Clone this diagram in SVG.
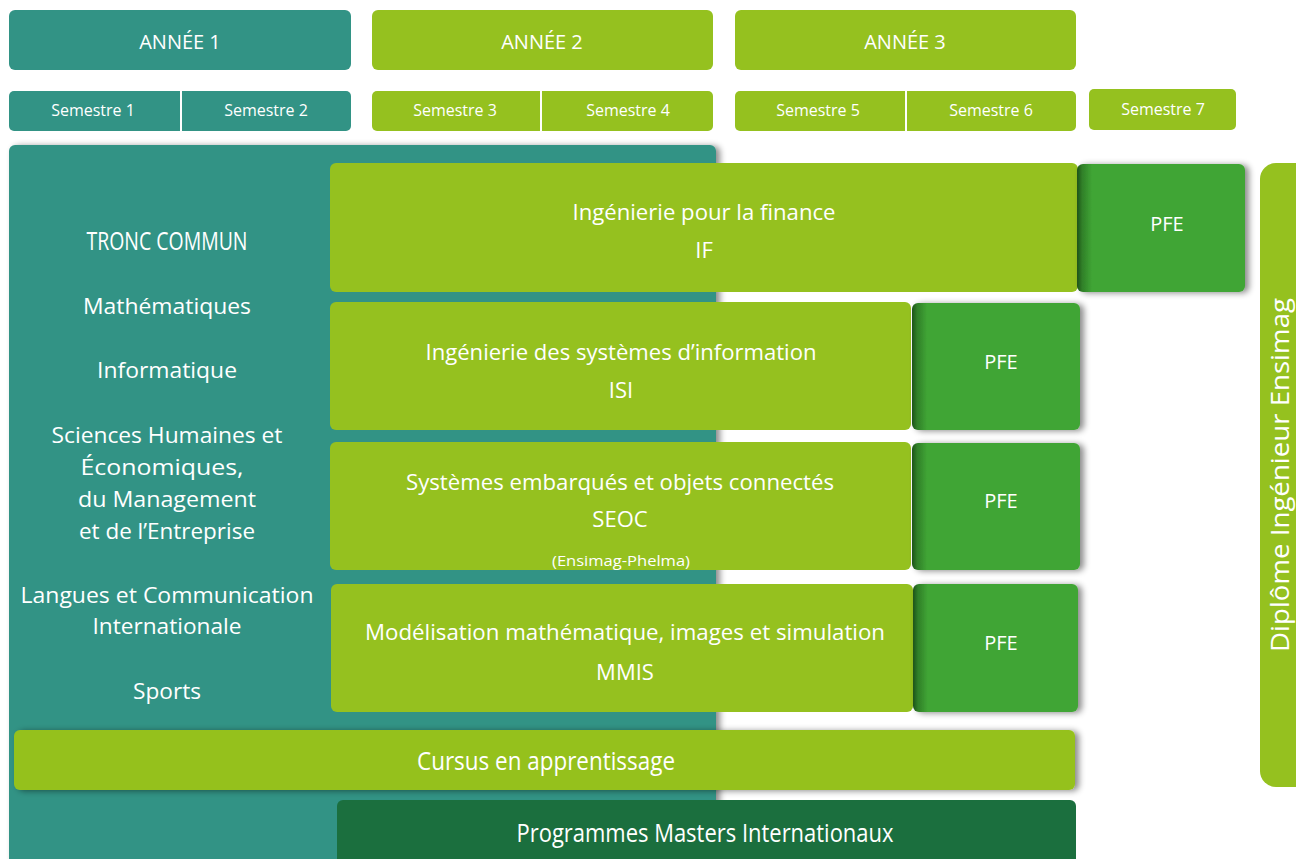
<svg xmlns="http://www.w3.org/2000/svg" width="1296" height="859" viewBox="0 0 1296 859">
<defs>
<style>
.teal{fill:#329385}
.lime{fill:#95C11F}
.pfe{fill:url(#pfeGrad)}
.dark{fill:#1B6F3E}
text{font-family:"Open Sans","Liberation Sans",sans-serif;fill:#ffffff;text-anchor:middle}
.h{font-size:20px}
.s{font-size:16px}
.m{font-size:22px}
.p{font-size:20px}
.sm{font-size:14px}
.c{font-size:25px}
</style>
<linearGradient id="pfeGrad" x1="0" y1="0" x2="1" y2="0">
<stop offset="0" stop-color="#1f531b"/>
<stop offset="0.03" stop-color="#2f7f28"/>
<stop offset="0.09" stop-color="#40A535"/>
<stop offset="1" stop-color="#40A535"/>
</linearGradient>
<filter id="sh" x="-10%" y="-10%" width="125%" height="125%">
<feDropShadow dx="4" dy="1" stdDeviation="3" flood-color="#000" flood-opacity="0.45"/>
</filter>
</defs>
<rect width="1296" height="859" fill="#ffffff"/>

<g id="annee1"><rect class="teal" x="9" y="10" width="342" height="60" rx="6"/><text class="h" x="180" y="49">ANNÉE 1</text></g>
<g id="annee2"><rect class="lime" x="372" y="10" width="341" height="60" rx="6"/><text class="h" x="542" y="49">ANNÉE 2</text></g>
<g id="annee3"><rect class="lime" x="735" y="10" width="341" height="60" rx="6"/><text class="h" x="905" y="49">ANNÉE 3</text></g>

<g id="sem12"><rect class="teal" x="9" y="91" width="342" height="40" rx="5"/><rect x="180" y="91" width="2" height="40" fill="#fff"/>
<text class="s" x="93" y="116">Semestre 1</text><text class="s" x="266" y="116">Semestre 2</text></g>
<g id="sem34"><rect class="lime" x="372" y="91" width="341" height="40" rx="5"/><rect x="540" y="91" width="2" height="40" fill="#fff"/>
<text class="s" x="455" y="116">Semestre 3</text><text class="s" x="628" y="116">Semestre 4</text></g>
<g id="sem56"><rect class="lime" x="735" y="91" width="341" height="40" rx="5"/><rect x="905" y="91" width="2" height="40" fill="#fff"/>
<text class="s" x="818" y="116">Semestre 5</text><text class="s" x="991" y="116">Semestre 6</text></g>
<g id="sem7"><rect class="lime" x="1089" y="89" width="147" height="41" rx="5"/><text class="s" x="1163" y="115">Semestre 7</text></g>

<g id="tronc-commun">
<rect class="teal" x="9" y="145" width="707" height="730" rx="6" filter="url(#sh)"/>
<text class="c" x="167" y="250" textLength="161" lengthAdjust="spacingAndGlyphs">TRONC COMMUN</text>
<text class="m" x="167" y="314" textLength="168" lengthAdjust="spacingAndGlyphs">Mathématiques</text>
<text class="m" x="167" y="378" textLength="140" lengthAdjust="spacingAndGlyphs">Informatique</text>
<text class="m" x="167" y="443" textLength="231" lengthAdjust="spacingAndGlyphs">Sciences Humaines et</text>
<text class="m" x="162" y="475" textLength="163" lengthAdjust="spacingAndGlyphs">Économiques,</text>
<text class="m" x="167" y="507" textLength="178" lengthAdjust="spacingAndGlyphs">du Management</text>
<text class="m" x="167" y="539" textLength="176" lengthAdjust="spacingAndGlyphs">et de l’Entreprise</text>
<text class="m" x="167" y="603" textLength="293" lengthAdjust="spacingAndGlyphs">Langues et Communication</text>
<text class="m" x="167" y="634" textLength="149" lengthAdjust="spacingAndGlyphs">Internationale</text>
<text class="m" x="167" y="699" textLength="68" lengthAdjust="spacingAndGlyphs">Sports</text>
</g>

<g id="if">
<rect class="lime" x="330" y="163" width="748" height="129" rx="6"/>
<text class="m" x="704" y="220" textLength="263" lengthAdjust="spacingAndGlyphs">Ingénierie pour la finance</text>
<text class="m" x="704" y="258">IF</text>
</g>
<g id="pfe-if"><rect class="pfe" x="1077" y="164" width="168" height="128" rx="6" filter="url(#sh)"/><text class="p" x="1167" y="231">PFE</text></g>

<g id="isi">
<rect class="lime" x="330" y="302" width="581" height="128" rx="6"/>
<text class="m" x="621" y="360" textLength="391" lengthAdjust="spacingAndGlyphs">Ingénierie des systèmes d’information</text>
<text class="m" x="621" y="398">ISI</text>
</g>
<g id="pfe-isi"><rect class="pfe" x="912" y="303" width="168" height="127" rx="6" filter="url(#sh)"/><text class="p" x="1001" y="369">PFE</text></g>

<g id="seoc">
<rect class="lime" x="330" y="442" width="581" height="128" rx="6"/>
<text class="m" x="620" y="490" textLength="428" lengthAdjust="spacingAndGlyphs">Systèmes embarqués et objets connectés</text>
<text class="m" x="620" y="527">SEOC</text>
<text class="sm" x="621" y="566" textLength="138" lengthAdjust="spacingAndGlyphs">(Ensimag-Phelma)</text>
</g>
<g id="pfe-seoc"><rect class="pfe" x="912" y="443" width="168" height="127" rx="6" filter="url(#sh)"/><text class="p" x="1001" y="508">PFE</text></g>

<g id="mmis">
<rect class="lime" x="331" y="584" width="582" height="128" rx="6"/>
<text class="m" x="625" y="640" textLength="520" lengthAdjust="spacingAndGlyphs">Modélisation mathématique, images et simulation</text>
<text class="m" x="625" y="680">MMIS</text>
</g>
<g id="pfe-mmis"><rect class="pfe" x="913" y="584" width="165" height="128" rx="6" filter="url(#sh)"/><text class="p" x="1001" y="650">PFE</text></g>

<g id="cursus">
<rect class="lime" x="14" y="730" width="1061" height="60" rx="6" filter="url(#sh)"/>
<text class="c" x="546" y="770" textLength="258" lengthAdjust="spacingAndGlyphs">Cursus en apprentissage</text>
</g>

<g id="masters">
<rect class="dark" x="337" y="800" width="739" height="80" rx="6"/>
<text class="c" x="705" y="842" textLength="377" lengthAdjust="spacingAndGlyphs">Programmes Masters Internationaux</text>
</g>

<g id="diplome">
<rect class="lime" x="1260" y="163" width="60" height="624" rx="16"/>
<text transform="translate(1289,475) rotate(-90)" x="0" y="0" font-size="25" textLength="354" lengthAdjust="spacingAndGlyphs">Diplôme Ingénieur Ensimag</text>
</g>

<g id="connectors"></g>
</svg>
